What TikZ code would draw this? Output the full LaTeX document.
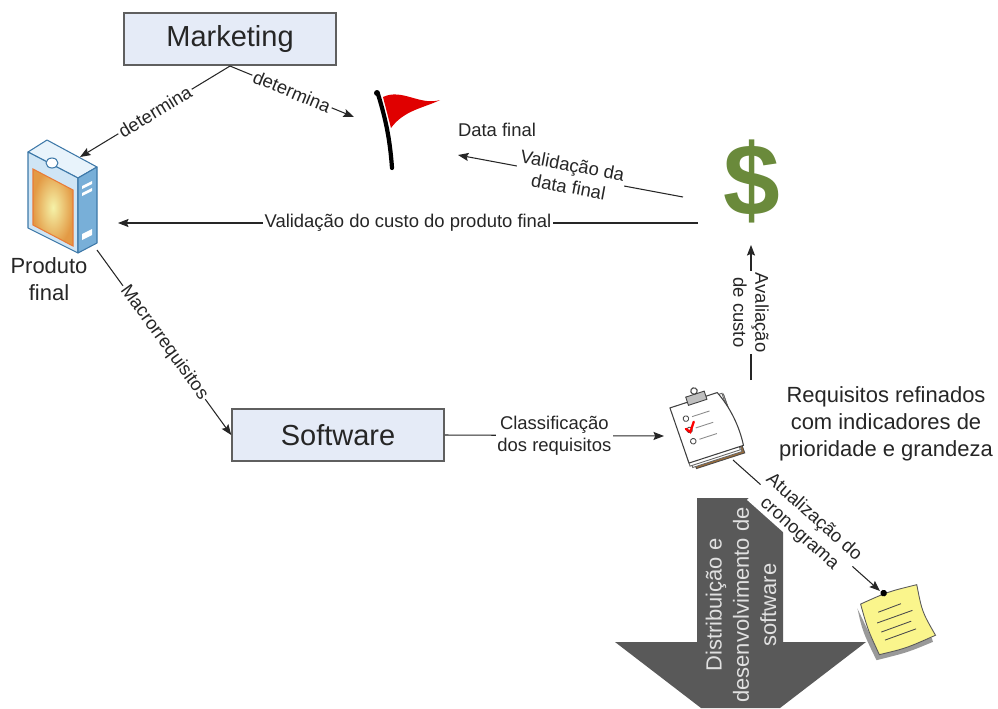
\documentclass[tikz,border=0pt]{standalone}
\usepackage{fontspec}
\setmainfont{Liberation Sans}
\usetikzlibrary{arrows.meta}
\definecolor{boxblue}{HTML}{E5EBF7}
\definecolor{boxline}{HTML}{5F5F5F}
\definecolor{ink}{HTML}{262626}
\definecolor{flowgray}{HTML}{595959}
\definecolor{dollargreen}{HTML}{6A8A3B}
\definecolor{flagred}{HTML}{E00000}
\definecolor{noteyellow}{HTML}{FAF58C}
\definecolor{casefront}{HTML}{CFE5F5}
\definecolor{casetop}{HTML}{E8F3FB}
\definecolor{caseside}{HTML}{78AFD8}
\definecolor{caseedge}{HTML}{3D78A8}
\definecolor{panelorange}{HTML}{E39A45}
\definecolor{panelyellow}{HTML}{F5F2A8}
\definecolor{boardbrown}{HTML}{9C6B35}

\begin{document}
\begin{tikzpicture}[x=0.02cm,y=-0.02cm,
  conn/.style={draw=ink, line width=0.6pt, -{Stealth[length=6pt,width=4.6pt,inset=1pt]}},
  lbl/.style={fill=white, inner sep=1pt, text=ink, align=center,
    font=\fontsize{10.5}{12.5}\selectfont},
  procbox/.style={draw=boxline, line width=0.9pt, fill=boxblue, text=ink,
    minimum width=4.24cm, minimum height=1.05cm,
    font=\fontsize{16.5}{20}\selectfont},
  bigtext/.style={align=center, text=ink, font=\fontsize{12.5}{15.5}\selectfont},
  caseline/.style={draw=caseedge, line width=0.6pt, line join=round}]
\useasboundingbox (0,0) rectangle (998,708);

% broad flow arrow at the bottom
\fill[flowgray] (697,498) -- (783,498) -- (783,642) -- (866,642) -- (780,708)
  -- (701,708) -- (615,642) -- (697,642) -- cycle;
\node[bigtext, text=white!88!black, rotate=90] (flow) at (741,605)
  {Distribuição e\\desenvolvimento de\\software};

% process boxes
\node[procbox] (mkt) at (230,39) {Marketing};
\node[procbox] (sw) at (338,435) {Software};

% product package
\filldraw[caseline, fill=casetop] (28,152) -- (47,140) -- (97,167) -- (78,178) -- cycle;
\filldraw[caseline, fill=casefront] (28,152) -- (78,178) -- (78,253) -- (28,228) -- cycle;
\filldraw[caseline, fill=caseside] (78,178) -- (97,167) -- (97,243) -- (78,253) -- cycle;
\shade[inner color=panelyellow, outer color=panelorange]
  (33,169) -- (73,190) -- (73,246) -- (33,225) -- cycle;
\draw[panelorange!80!red, line width=0.6pt]
  (33,169) -- (73,190) -- (73,246) -- (33,225) -- cycle;
\filldraw[caseline, fill=white] (52,163) ellipse (6 and 5);
\fill[white] (82,186) -- (92,181) -- (92,184) -- (82,189) -- cycle;
\fill[white] (82,193) -- (92,188) -- (92,191) -- (82,196) -- cycle;
\fill[white] (82,234) -- (92,229) -- (92,235) -- (82,240) -- cycle;
\node[bigtext] (prodlbl) at (49,279) {Produto\\final};

% flag
\draw[line width=2.4pt, line cap=round] (378,94) .. controls (386,120) and (390,140) .. (392,168);
\fill (377,93) circle (3);
\fill[flagred] (383,97) .. controls (402,88) and (420,106) .. (440,100)
  .. controls (424,108) and (404,110) .. (391,128) -- cycle;
\node[lbl] (datafinal) at (497,130) {Data final};

% dollar sign
\node[text=dollargreen, inner sep=0, font=\fontsize{58}{58}\selectfont\bfseries]
  (dollar) at (752,181) {\$};

% clipboard with checklist
\begin{scope}[shift={(706,428)}, rotate=18, scale=1.08]
  \filldraw[fill=boardbrown, draw=black!70, line width=0.5pt]
    (-22,-24) -- (25,-24) -- (27,33) -- (-20,33) -- cycle;
  \filldraw[fill=white, draw=black!60, line width=0.5pt] (-23,-25) rectangle (25,31);
  \filldraw[fill=white, draw=black!60, line width=0.5pt] (-25,-26) rectangle (24,29);
  \filldraw[fill=white, draw=black!75, line width=0.6pt]
    (-26,-28) -- (20,-28) .. controls (27,-12) and (30,8) .. (28,26) -- (-25,26) -- cycle;
  \filldraw[fill=black!25, draw=black!75, line width=0.5pt] (-9,-33) rectangle (9,-25);
  \draw[black!75, line width=0.6pt] (0,-36) circle (3);
  \foreach \yy in {-14,-3,8} {
    \draw[black!70, line width=0.5pt] (-15,\yy) circle (2.6);
    \draw[black!45, line width=0.5pt] (-9,\yy) -- (8,\yy);
  }
  \draw[red, line width=1.3pt, line cap=round] (-18,-5) -- (-15,-1) -- (-9,-9);
\end{scope}

% sticky note
\begin{scope}[shift={(897,620)}, rotate=18, scale=1.1]
  \fill[black!40] (-31,-21) .. controls (-33,0) .. (-29,29) .. controls (0,31) .. (25,29) -- (25,25) -- (-25,24) -- cycle;
  \filldraw[fill=noteyellow, draw=black!65, line width=0.5pt]
    (-27,-24) .. controls (0,-27) .. (27,-25) .. controls (24,0) .. (29,24)
    .. controls (0,27) .. (-25,25) .. controls (-28,0) .. (-27,-24) -- cycle;
  \draw[black!70, line width=0.5pt] (-14,-12) -- (8,-13);
  \draw[black!70, line width=0.5pt] (-18,-3) -- (16,-4);
  \draw[black!70, line width=0.5pt] (-17,6) -- (12,5);
  \draw[black!70, line width=0.5pt] (-16,14) -- (14,13);
  \fill (-4,-27) circle (3);
\end{scope}

% text beside the checklist
\node[bigtext] (reqtext) at (886,424) {Requisitos refinados\\com indicadores de\\prioridade e grandeza};

% connector ports on the icons
\coordinate (prod-top) at (80,157);
\coordinate (prod-side) at (118,223);
\coordinate (prod-foot) at (97,250);
\coordinate (flag-in) at (354,117);
\coordinate (flag-rt) at (458,155);
\coordinate (dollar-w) at (683,197);
\coordinate (dollar-sw) at (698,223);
\coordinate (dollar-s) at (751,245);
\coordinate (clip-w) at (664,436);
\coordinate (clip-n) at (751,380);
\coordinate (clip-se) at (733,460);
\coordinate (note-pin) at (880,591);

% connectors
\draw[conn] (mkt.south) -- node[lbl, sloped] {determina} (prod-top);
\draw[conn] (mkt.south) -- node[lbl, sloped] {determina} (flag-in);
\draw[conn] (dollar-w) -- node[lbl, sloped] {Validação da\\data final} (flag-rt);
\draw[conn] (dollar-sw) -- node[lbl] {Validação do custo do produto final} (prod-side);
\draw[conn] (prod-foot) -- node[lbl, sloped] {Macrorrequisitos} (sw.west);
\draw[conn] (sw.east) -- node[lbl] {Classificação\\dos requisitos} (clip-w);
\draw[conn] (clip-n) -- node[lbl, rotate=-90] {Avaliação\\de custo} (dollar-s);
\draw[conn] (clip-se) -- node[lbl, sloped, inner sep=0.5pt] {Atualização do\\cronograma} (note-pin);
\end{tikzpicture}
\end{document}
